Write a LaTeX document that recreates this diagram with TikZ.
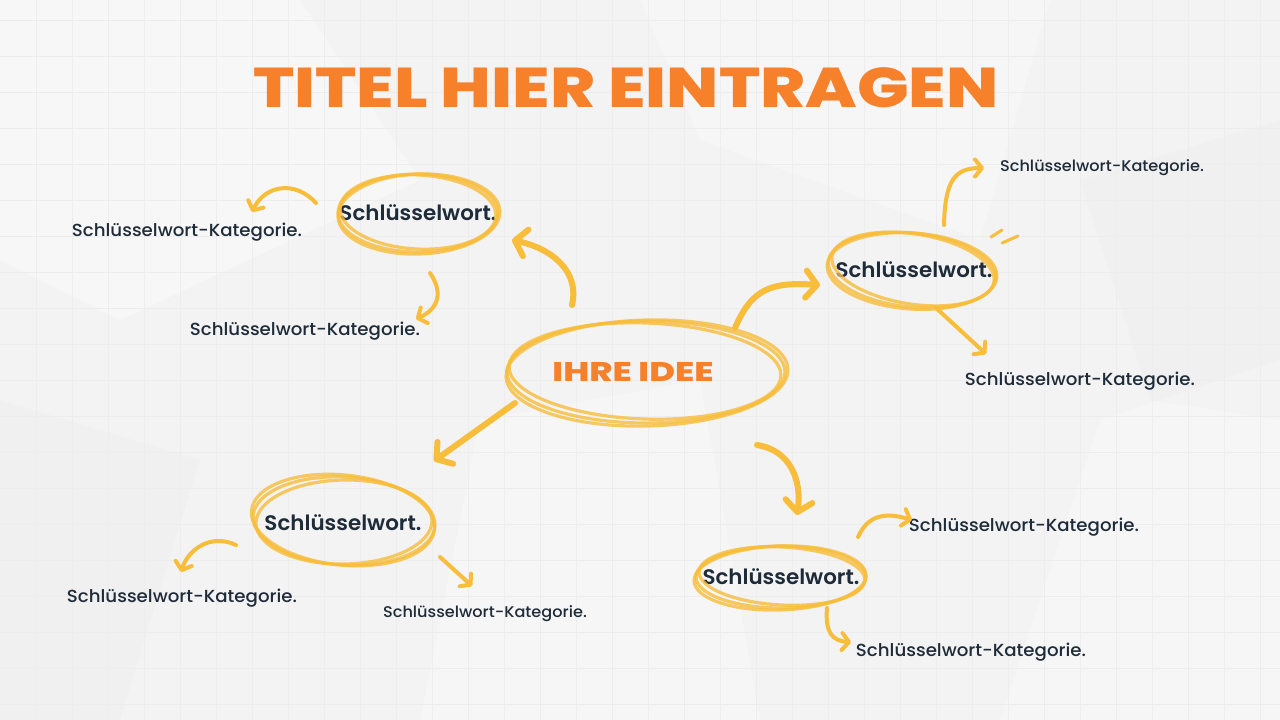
\documentclass[tikz,border=0pt]{standalone}
\usepackage{fontspec}
\setmainfont{Poppins}
\newfontfamily\pmed{Poppins Medium}[FakeStretch=1.04]
\newfontfamily\psemi{Poppins SemiBold}[FakeStretch=1.02]
\newfontfamily\pxbold{Poppins ExtraBold}[FakeStretch=1.22]
\newfontfamily\pxboldw{Poppins ExtraBold}[FakeStretch=1.3]
\usetikzlibrary{arrows.meta}
\definecolor{bgc}{HTML}{F3F3F4}
\definecolor{gridc}{HTML}{EDEDEF}
\definecolor{ttl}{HTML}{F7812B}
\definecolor{ylw}{HTML}{F8BD3A}
\definecolor{ink}{HTML}{1E2B38}
\tikzset{
  bigarrow/.style={draw=ylw, line width=6pt, line cap=round, -{Straight Barb[length=11pt,width=27pt,round]}},
  smallarrow/.style={draw=ylw, line width=4pt, line cap=round, -{Straight Barb[length=7pt,width=17pt,round]}},
  sketch/.style={draw=ylw, line width=3.2pt, opacity=0.8},
  keyword/.style={text=ink, font=\psemi\fontsize{21}{24}\selectfont},
  kat/.style={text=ink, font=\pmed\fontsize{17.5}{20}\selectfont},
  katsmall/.style={text=ink, font=\pmed\fontsize{15.5}{18}\selectfont},
}
\begin{document}
\begin{tikzpicture}[x=1pt,y=-1pt]
\fill[bgc] (0,0) rectangle (1280,720);
\useasboundingbox (0,0) rectangle (1280,720);
% soft paper patches
\fill[white, opacity=0.35] (0,0) -- (300,0) -- (420,180) -- (120,320) -- (0,260) -- cycle;
\fill[white, opacity=0.3] (640,0) -- (1050,0) -- (980,240) -- (700,140) -- cycle;
\fill[white, opacity=0.3] (480,420) -- (700,380) -- (760,720) -- (420,720) -- cycle;
\fill[white, opacity=0.3] (1100,420) -- (1280,360) -- (1280,720) -- (1000,720) -- cycle;
\fill[black, opacity=0.012] (1080,180) -- (1280,120) -- (1280,420) -- (1150,400) -- cycle;
\fill[black, opacity=0.01] (0,400) -- (200,460) -- (120,720) -- (0,720) -- cycle;
\foreach \gx in {36,72,...,1280} {\draw[gridc, line width=0.5pt] (\gx,0) -- (\gx,720);}
\foreach \gy in {20,56,...,720} {\draw[gridc, line width=0.5pt] (0,\gy) -- (1280,\gy);}

% title
\node[text=ttl, font=\pxbold\fontsize{56}{60}\selectfont] (title) at (626,88) {TITEL HIER EINTRAGEN};

% central idea
\node[text=ttl, font=\pxboldw\fontsize{27}{30}\selectfont] (idea) at (633,372) {IHRE IDEE};
\draw[sketch] (646,372) ellipse [x radius=139, y radius=51];
\draw[sketch] (645,371) ellipse [x radius=136, y radius=48, rotate=-2];
\draw[sketch] (647,373) ellipse [x radius=141, y radius=53, rotate=1.5];

% keyword nodes
\node[keyword] (k1) at (418,213) {Schlüsselwort.};
\draw[sketch] (418,213) ellipse [x radius=80, y radius=39];
\draw[sketch] (418,212) ellipse [x radius=78, y radius=37, rotate=-3];
\draw[sketch] (419,214) ellipse [x radius=81, y radius=40, rotate=2];

\node[keyword] (k2) at (914,270) {Schlüsselwort.};
\draw[sketch] (912,270) ellipse [x radius=84, y radius=37, rotate=-6];
\draw[sketch] (913,269) ellipse [x radius=82, y radius=35, rotate=-9];
\draw[sketch] (912,271) ellipse [x radius=85, y radius=38, rotate=-4];

\node[keyword] (k3) at (343,523) {Schlüsselwort.};
\draw[sketch] (344,521) ellipse [x radius=91, y radius=44, rotate=-3];
\draw[sketch] (344,522) ellipse [x radius=88, y radius=42, rotate=1];
\draw[sketch] (343,520) ellipse [x radius=92, y radius=45, rotate=-6];

\node[keyword] (k4) at (781,577) {Schlüsselwort.};
\draw[sketch] (781,577) ellipse [x radius=85, y radius=31];
\draw[sketch] (782,576) ellipse [x radius=83, y radius=29, rotate=-3];
\draw[sketch] (780,578) ellipse [x radius=86, y radius=32, rotate=2];

% category labels
\node[kat] (c1a) at (187,232) {Schlüsselwort-Kategorie.};
\node[kat] (c1b) at (305,331) {Schlüsselwort-Kategorie.};
\node[katsmall] (c2a) at (1102,168) {Schlüsselwort-Kategorie.};
\node[kat] (c2b) at (1080,381) {Schlüsselwort-Kategorie.};
\node[kat] (c3a) at (182,598) {Schlüsselwort-Kategorie.};
\node[katsmall] (c3b) at (485,614) {Schlüsselwort-Kategorie.};
\node[kat] (c4a) at (1024,527) {Schlüsselwort-Kategorie.};
\node[kat] (c4b) at (971,652) {Schlüsselwort-Kategorie.};

% arrow end points
\coordinate (a1s) at (572,305); \coordinate (a1e) at (512,240);
\coordinate (a2s) at (735,328); \coordinate (a2e) at (820,285);
\coordinate (a3s) at (515,403); \coordinate (a3e) at (434,461);
\coordinate (a4s) at (757,445); \coordinate (a4e) at (797,515);
\coordinate (b1s) at (316,203); \coordinate (b1e) at (252,212);
\coordinate (b2s) at (430,273); \coordinate (b2e) at (416,319);
\coordinate (b3s) at (944,225); \coordinate (b3e) at (984,168);
\coordinate (b4s) at (935,307); \coordinate (b4e) at (986,354);
\coordinate (b5s) at (236,545); \coordinate (b5e) at (181,572);
\coordinate (b6s) at (440,557); \coordinate (b6e) at (472,586);
\coordinate (b7s) at (858,537); \coordinate (b7e) at (912,520);
\coordinate (b8s) at (827,608); \coordinate (b8e) at (851,642);

% main arrows
\draw[bigarrow] (a1s) .. controls (580,270) and (550,248) .. (a1e);
\draw[bigarrow] (a2s) .. controls (752,288) and (772,282) .. (a2e);
\draw[bigarrow] (a3s) -- (a3e);
\draw[bigarrow] (a4s) .. controls (790,450) and (802,480) .. (a4e);

% secondary arrows
\draw[smallarrow] (b1s) .. controls (295,180) and (265,185) .. (b1e);
\draw[smallarrow] (b2s) .. controls (445,295) and (436,310) .. (b2e);
\draw[smallarrow] (b3s) .. controls (945,180) and (955,168) .. (b3e);
\draw[smallarrow] (b4s) -- (b4e);
\draw[smallarrow] (b5s) .. controls (210,533) and (188,550) .. (b5e);
\draw[smallarrow] (b6s) -- (b6e);
\draw[smallarrow] (b7s) .. controls (868,515) and (885,512) .. (b7e);
\draw[smallarrow] (b8s) .. controls (825,632) and (832,641) .. (b8e);

% spark ticks
\coordinate (t1s) at (991,237); \coordinate (t1e) at (1002,230);
\coordinate (t2s) at (1002,243); \coordinate (t2e) at (1018,236);
\draw[draw=ylw, line width=3pt, line cap=round] (t1s) -- (t1e);
\draw[draw=ylw, line width=3pt, line cap=round] (t2s) -- (t2e);
\end{tikzpicture}
\end{document}
